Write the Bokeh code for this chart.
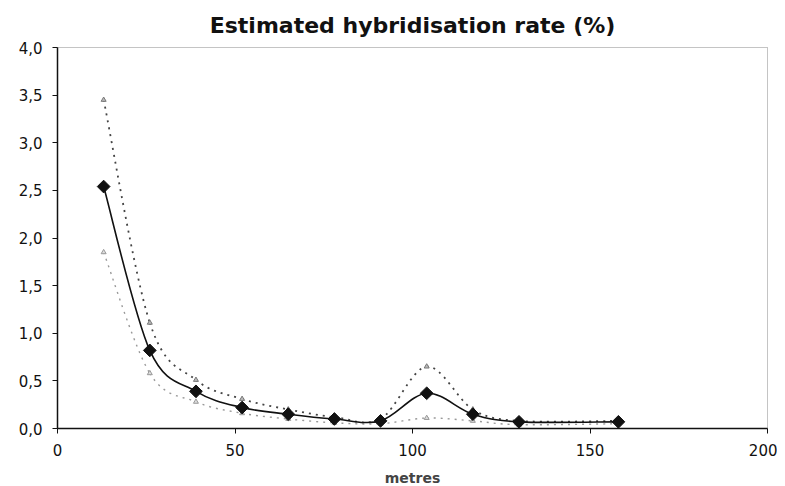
import math
from bokeh.plotting import figure
from bokeh.models import ColumnDataSource, CustomJSTickFormatter, FixedTicker, Range1d
from bokeh.embed import file_html
from bokeh.resources import INLINE

# ---- data ----
metres = [13, 26, 39, 52, 65, 78, 91, 104, 117, 130, 158]
estimate = [2.54, 0.82, 0.39, 0.22, 0.15, 0.10, 0.08, 0.37, 0.15, 0.07, 0.07]
upper = [3.45, 1.11, 0.51, 0.31, 0.20, 0.12, 0.10, 0.65, 0.20, 0.08, 0.08]
lower = [1.85, 0.58, 0.28, 0.16, 0.10, 0.06, 0.05, 0.11, 0.08, 0.04, 0.05]
x_ticks = [0, 50, 100, 150, 200]
y_ticks = [0, 0.5, 1.0, 1.5, 2.0, 2.5, 3.0, 3.5, 4.0]


def smooth_segments(xs, ys):
    """Excel-style smoothed line: cubic Bezier control points per segment."""
    n = len(xs)
    d = dict(x0=[], y0=[], x1=[], y1=[], cx0=[], cy0=[], cx1=[], cy1=[])
    for i in range(n - 1):
        xm, ym = (xs[i - 1], ys[i - 1]) if i > 0 else (xs[i], ys[i])
        xp, yp = (xs[i + 2], ys[i + 2]) if i + 2 < n else (xs[i + 1], ys[i + 1])
        d["x0"].append(xs[i]); d["y0"].append(ys[i])
        d["x1"].append(xs[i + 1]); d["y1"].append(ys[i + 1])
        d["cx0"].append(xs[i] + (xs[i + 1] - xm) / 6.0)
        d["cy0"].append(ys[i] + (ys[i + 1] - ym) / 6.0)
        d["cx1"].append(xs[i + 1] - (xp - xs[i]) / 6.0)
        d["cy1"].append(ys[i + 1] - (yp - ys[i]) / 6.0)
    return ColumnDataSource(d)


p = figure(
    width=777, height=486,
    frame_width=710, frame_height=381,
    min_border_left=57, min_border_right=10, min_border_top=47, min_border_bottom=58,
    x_range=Range1d(0, 200), y_range=Range1d(0, 4.0),
    output_backend="svg", toolbar_location=None,
    title="Estimated hybridisation rate (%)",
)

p.title.align = "center"
p.title.text_font = "DejaVu Sans"
p.title.text_font_style = "bold"
p.title.text_font_size = "22px"
p.title.text_color = "#111111"
p.title.standoff = 19

p.xgrid.visible = False
p.ygrid.visible = False
p.outline_line_color = "#888888"
p.outline_line_dash = "1 1"
p.outline_line_width = 1

bez = dict(x0="x0", y0="y0", x1="x1", y1="y1", cx0="cx0", cy0="cy0", cx1="cx1", cy1="cy1")
p.bezier(source=smooth_segments(metres, upper), line_color="#444444", line_width=1.8,
         line_dash="2 5", **bez)
p.bezier(source=smooth_segments(metres, lower), line_color="#999999", line_width=1.4,
         line_dash="2 5", **bez)
p.bezier(source=smooth_segments(metres, estimate), line_color="#111111", line_width=1.6, **bez)

p.scatter(metres, upper, marker="triangle", size=5, fill_color="#bbbbbb", line_color="#777777")
p.scatter(metres, lower, marker="triangle", size=5, fill_color="#dddddd", line_color="#999999")
p.scatter(metres, estimate, marker="square", angle=math.pi / 4, size=9,
          fill_color="#111111", line_color="#111111")

for ax in (p.xaxis[0], p.yaxis[0]):
    ax.axis_line_color = "#111111"
    ax.axis_line_width = 1.5
    ax.major_tick_line_color = "#111111"
    ax.major_tick_in = 0
    ax.major_tick_out = 5
    ax.minor_tick_line_color = None
    ax.major_label_text_font = "DejaVu Sans"
    ax.major_label_text_font_size = "15px"
    ax.major_label_text_color = "#111111"

p.xaxis.ticker = FixedTicker(ticks=x_ticks)
p.yaxis.ticker = FixedTicker(ticks=y_ticks)
p.yaxis.formatter = CustomJSTickFormatter(code="return tick.toFixed(1).replace('.', ',');")
p.yaxis.major_label_standoff = 10
p.xaxis.major_label_standoff = 10

p.xaxis.axis_label = "metres"
p.xaxis.axis_label_text_font = "DejaVu Sans"
p.xaxis.axis_label_text_font_style = "bold"
p.xaxis.axis_label_text_font_size = "14px"
p.xaxis.axis_label_standoff = 11

open("out.html", "w").write(file_html(p, INLINE))
